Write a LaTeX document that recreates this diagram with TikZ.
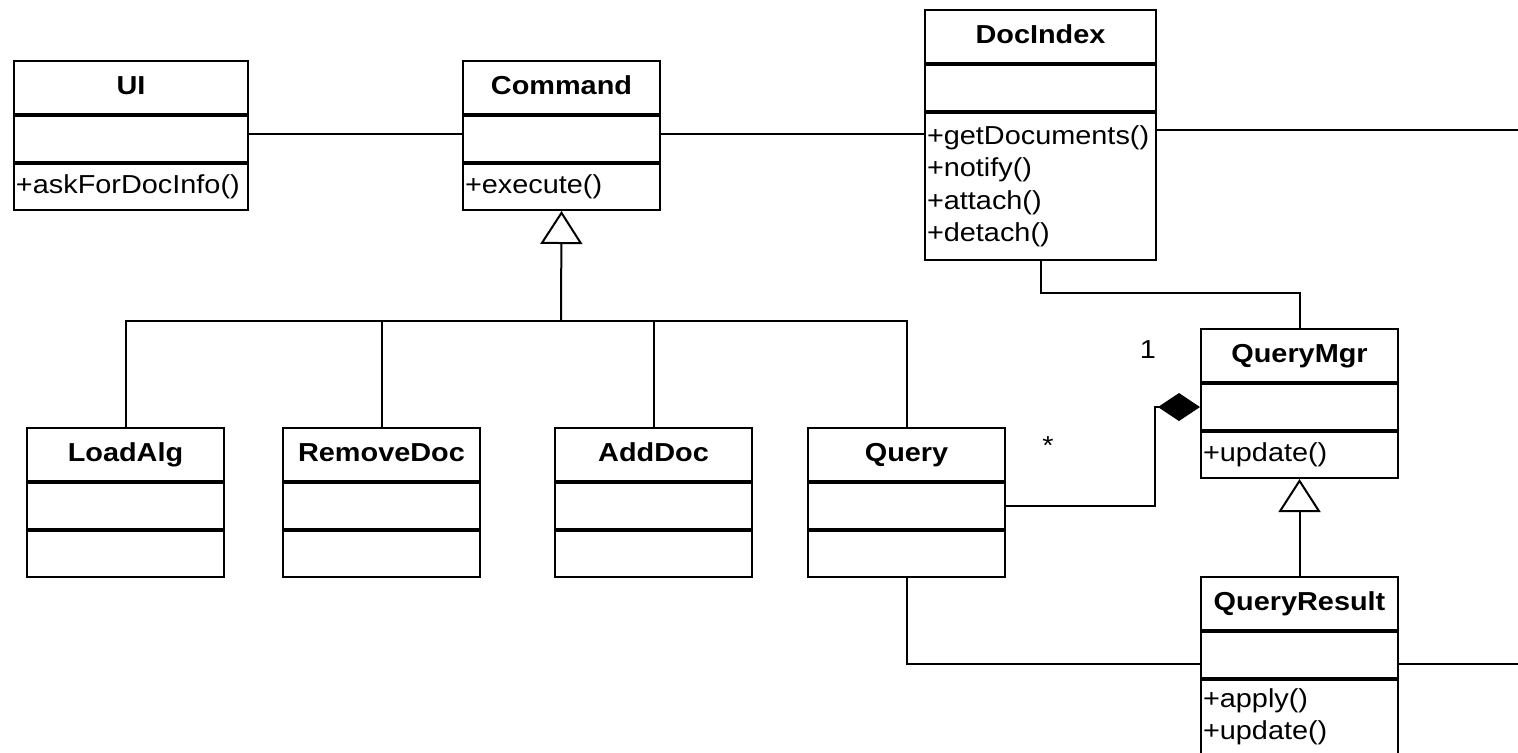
\documentclass[tikz,border=0pt]{standalone}
\usepackage{fontspec}
\setmainfont{Liberation Sans}[FakeStretch=1.11]
\usetikzlibrary{arrows.meta}

\newcommand{\umlfont}{\fontsize{13}{16.25}\selectfont}

\tikzset{
  classhead/.style={draw, line width=1pt, font=\umlfont\bfseries, minimum height=26.5pt,
    inner sep=1pt, text height=9.3pt, text depth=2.5pt},
  classpart/.style={draw, line width=1pt, minimum height=23pt, inner sep=1pt},
  classops/.style={classpart, align=left, font=\umlfont},
  mult/.style={font=\umlfont, inner sep=1pt},
  assoc/.style={line width=1pt},
  inherit/.style={assoc, -{Triangle[open, length=16.5pt, width=21pt]}},
  compose/.style={assoc, -{Diamond[length=21pt, width=14pt]}},
}

% class box: name, x, y, width, ops height, title, ops
\newcommand{\umlclass}[7]{%
  \pgfmathsetlengthmacro\clsw{#4*0.5pt}%
  \pgfmathsetlengthmacro\clstw{#4*0.5pt-2pt}%
  \node[classhead, minimum width=\clsw, anchor=north west] (#1) at (#2,#3) {#6};
  \node[classpart, minimum width=\clsw, anchor=north] (#1-a) at (#1.south) {};
  \node[classops, text width=\clstw, minimum height=#5*0.5pt, anchor=north] (#1-o) at (#1-a.south) {#7};
}

\begin{document}
\begin{tikzpicture}[x=0.5pt, y=-0.5pt]
  \useasboundingbox (0,0) rectangle (1518,752);

  % classes
  \umlclass{ui}{13}{60}{234}{46}{UI}{+askForDocInfo()}
  \umlclass{cmd}{462}{60}{197}{46}{Command}{+execute()}
  \umlclass{doc}{924}{9}{231}{147}{DocIndex}{+getDocuments()\\+notify()\\+attach()\\+detach()}
  \umlclass{la}{26}{427}{197}{46}{LoadAlg}{}
  \umlclass{rd}{282}{427}{197}{46}{RemoveDoc}{}
  \umlclass{ad}{554}{427}{197}{46}{AddDoc}{}
  \umlclass{q}{807}{427}{197}{46}{Query}{}
  \umlclass{qm}{1200}{328}{197}{46}{QueryMgr}{+update()}
  \umlclass{qr}{1200}{576}{197}{74}{QueryResult}{+apply()\\+update()}

  % associations
  \draw[assoc] ([yshift=2.5pt]ui-a.east) -- ([yshift=2.5pt]cmd-a.west);
  \coordinate (linkA) at ([yshift=2.5pt]cmd-a.east);
  \draw[assoc] (linkA) -- (linkA -| doc-o.west);
  \coordinate (rimA) at (1518,130);
  \draw[assoc] (rimA -| doc-o.east) -- (rimA);
  \draw[assoc] (doc-o.south) -- ++(0,32) -| (qm.north);
  \coordinate (rimB) at (1518,664);
  \draw[assoc] (q-o.south) |- (rimB -| qr-a.west);
  \draw[assoc] (rimB -| qr-a.east) -- (rimB);

  % generalisations
  \coordinate (fork) at (561,321);
  \draw[inherit] (fork) -- (cmd-o.south);
  \foreach \c in {la,rd,ad,q}
    \draw[assoc] (\c.north) |- (fork);
  \draw[inherit] (qr.north) -- (qm-o.south);

  % composition
  \draw[compose] (q-a.east) -- ++(149,0) |- (qm-a.west);
  \node[mult] (one) at (1148,350) {1};
  \node[mult] (many) at (1048,446) {*};
\end{tikzpicture}
\end{document}
